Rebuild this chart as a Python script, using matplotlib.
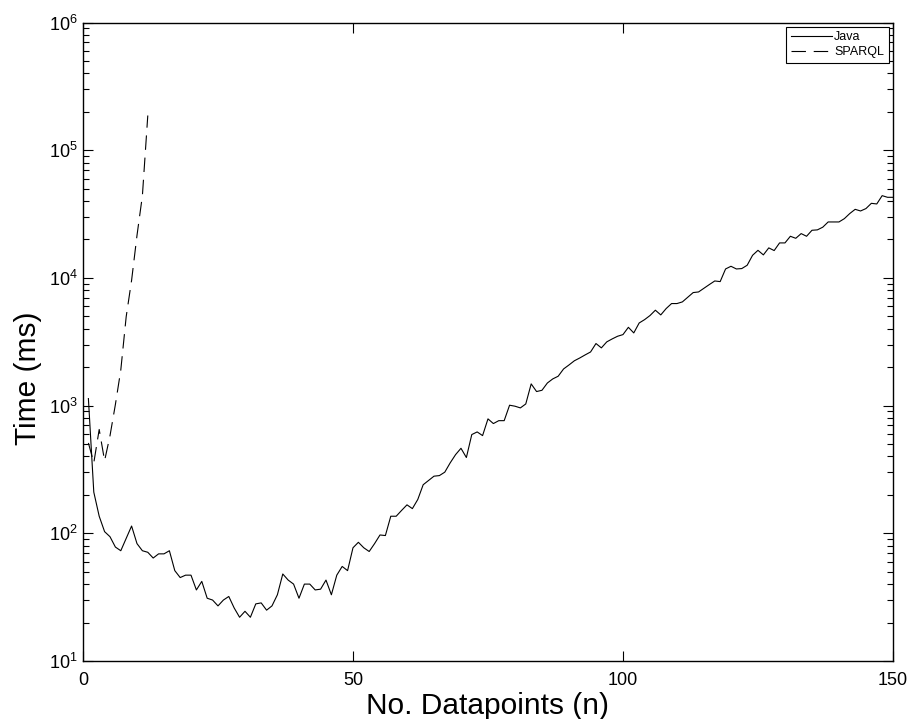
import numpy as np
import matplotlib
matplotlib.use("Agg")
import matplotlib.pyplot as plt
from matplotlib.ticker import LogLocator, NullFormatter, FixedLocator

plt.rcParams["font.family"] = ["Liberation Sans", "DejaVu Sans"]
plt.rcParams["mathtext.fontset"] = "custom"
plt.rcParams["mathtext.rm"] = "Liberation Sans"

# ===== DATA =====
# Java run time (ms) for n = 1..150
java_n = list(range(1, 151))
java_ms = [
    1135, 210, 136, 103, 94, 78, 73, 91, 114, 83,
    73, 71, 64, 69, 69, 73, 51, 45, 47, 47,
    36, 42, 31, 30, 27, 30, 32, 26, 22, 24.5,
    22, 28, 28.5, 25, 27, 33, 48, 43, 40, 31,
    40, 40, 36, 36.5, 43, 33, 47, 55, 51, 77,
    85, 77, 72, 83, 97, 96, 136, 136, 151, 167,
    156, 184, 240, 259, 280, 283, 301, 356, 413, 463,
    392, 593, 622, 582, 787, 723, 762, 762, 1007, 989,
    959, 1030, 1479, 1288, 1318, 1503, 1618, 1698, 1936, 2080,
    2244, 2360, 2495, 2630, 3062, 2831, 3155, 3327, 3491, 3597,
    4102, 3707, 4436, 4710, 5070, 5585, 5129, 5754, 6295, 6295,
    6486, 7047, 7674, 7762, 8299, 8872, 9462, 9354, 11749, 12331,
    11749, 11830, 12560, 15030, 16440, 15140, 17180, 16370, 18790, 18790,
    21180, 20420, 22230, 21180, 23600, 23770, 24950, 27420, 27420, 27420,
    29110, 31920, 34430, 33420, 34910, 38370, 37930, 44060, 42760, 42760,
]

# SPARQL run time (ms) for n = 1..12
sparql_n = list(range(1, 13))
sparql_ms = [510, 356, 650, 370, 580, 1020, 1900, 4970, 9570, 21500, 44000, 187000]

x_ticks = [0, 50, 100, 150]
# ================

fig = plt.figure(figsize=(9.11, 7.19), dpi=100)
ax = fig.add_axes([0.0911, 0.0807, 0.8891, 0.8880])

ax.plot(java_n, java_ms, color="black", lw=0.8, label="Java")
ax.plot(sparql_n, sparql_ms, color="black", lw=0.8,
        ls=(0, (13, 7)), label="SPARQL")

ax.set_yscale("log")
ax.set_xlim(0, 150)
ax.set_ylim(10, 1e6)
ax.xaxis.set_major_locator(FixedLocator(x_ticks))
ax.yaxis.set_major_locator(LogLocator(base=10, numticks=10))
ax.yaxis.set_minor_locator(LogLocator(base=10, subs=np.arange(2, 10), numticks=20))
ax.yaxis.set_minor_formatter(NullFormatter())

ax.tick_params(which="both", direction="in", top=True, right=True,
               labelsize=13, width=0.8)
ax.tick_params(which="major", length=7)
ax.tick_params(which="minor", length=4)
ax.tick_params(axis="x", pad=8)
ax.tick_params(axis="y", pad=4)
for sp in ax.spines.values():
    sp.set_linewidth(1.0)

ax.set_xlabel("No. Datapoints (n)", fontsize=21.5, labelpad=2)
ax.set_ylabel("Time (ms)", fontsize=21.5)
ax.yaxis.set_label_coords(-0.05, 0.443)

leg = ax.legend(loc="upper right", fontsize=9, fancybox=False,
                edgecolor="black", framealpha=1, handlelength=3.3,
                borderaxespad=0.35, borderpad=0.35, labelspacing=0.25,
                handletextpad=0.2)
leg.get_frame().set_linewidth(0.8)

fig.savefig("out.png", dpi=100)
